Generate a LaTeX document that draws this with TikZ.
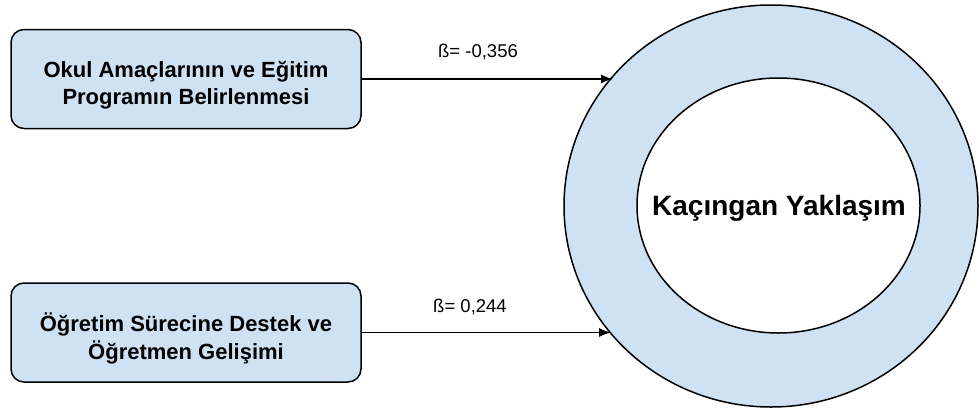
\documentclass[tikz,border=0pt]{standalone}
\usepackage{fontspec}
\setmainfont{Liberation Sans}
\usetikzlibrary{arrows.meta,shapes.geometric}
\definecolor{paleblue}{HTML}{CFE2F3}
\begin{document}
\begin{tikzpicture}[x=1pt,y=-1pt,
  factorbox/.style={draw=black, line width=1.5pt, fill=paleblue, rounded corners=13pt,
    minimum width=350pt, minimum height=99pt, inner sep=0pt},
  factortext/.style={align=center, font=\fontsize{22}{27.5}\selectfont\bfseries},
  ring/.style={ellipse, draw=black, line width=1.5pt, inner sep=0pt},
  link/.style={draw=black, line width=1.5pt, -{Latex[length=12pt,width=9pt]}},
  coef/.style={font=\fontsize{18.5}{22}\selectfont}]
\useasboundingbox (0,0) rectangle (979,410);
% outcome: ring with white core
\node[ring, fill=paleblue, minimum width=414pt, minimum height=402pt] (outer) at (771,206) {};
\node[ring, fill=white, minimum width=283pt, minimum height=255pt] (inner) at (778.5,205.5) {};
\node[anchor=base, font=\fontsize{28}{32}\selectfont\bfseries] (outcome) at (779,215) {Kaçıngan Yaklaşım};
% predictors (labels sit slightly below the box centre)
\node[factorbox] (f1) at (186,79) {};
\node[factortext] (f1text) at ([yshift=-6pt]f1.center) {Okul Amaçlarının ve Eğitim\\Programın Belirlenmesi};
\node[factorbox] (f2) at (186,332.5) {};
\node[factortext] (f2text) at ([yshift=-6pt]f2.center) {Öğretim Sürecine Destek ve\\Öğretmen Gelişimi};
% arrow end points on the outer ring
\coordinate (t1) at (613,79);
\coordinate (t2) at (611,332.5);
\draw[link] (f1.east) -- (t1);
\draw[link] (f2.east) -- (t2);
% path coefficients
\node[coef] (b1) at (478,52) {ß= -0,356};
\node[coef] (b2) at (470,306.5) {ß= 0,244};
\end{tikzpicture}
\end{document}
